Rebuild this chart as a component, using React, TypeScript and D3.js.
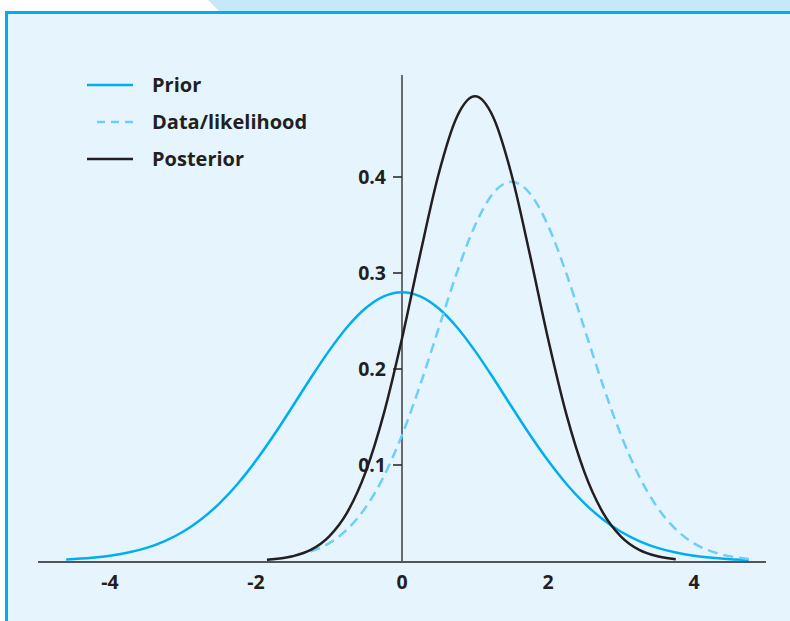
import React from 'react';
import * as d3 from 'd3';

// x positions and densities
const priorX = [-4.6, ...d3.range(-4.25, 4.76, 0.25)];
const priorY = [
  0.0015, 0.0033, 0.0054, 0.0088, 0.0137, 0.0208, 0.0305, 0.0435, 0.0601, 0.0805,
  0.1046, 0.1317, 0.1609, 0.1906, 0.2189, 0.2438, 0.2633, 0.2757, 0.28, 0.2757,
  0.2633, 0.2438, 0.2189, 0.1906, 0.1609, 0.1317, 0.1046, 0.0805, 0.0601, 0.0435,
  0.0305, 0.0208, 0.0137, 0.0088, 0.0054, 0.0033, 0.0019, 0.0012,
];

const dataX = d3.range(-1.25, 4.76, 0.25);
const dataY = [
  0.0097, 0.0184, 0.033, 0.0556, 0.088, 0.1311, 0.1836, 0.2419, 0.2998, 0.3495,
  0.3831, 0.395, 0.3831, 0.3495, 0.2998, 0.2419, 0.1836, 0.1311, 0.088, 0.0556,
  0.033, 0.0184, 0.0097, 0.0048, 0.0022,
];

const postX = [-1.85, ...d3.range(-1.5, 3.76, 0.25)];
const postY = [
  0.0012, 0.0049, 0.0116, 0.0255, 0.0507, 0.0923, 0.1532, 0.2317, 0.3199, 0.4026,
  0.4622, 0.484, 0.4622, 0.4026, 0.3199, 0.2317, 0.1532, 0.0923, 0.0507, 0.0255,
  0.0116, 0.0049, 0.0018,
];

const xTicks = [-4, -2, 0, 2, 4];
const yTicks = [0.1, 0.2, 0.3, 0.4];
const legendLabels = ['Prior', 'Data/likelihood', 'Posterior'];

const W = 790;
const H = 621;
const FONT = '"Open Sans", "DejaVu Sans", sans-serif';
const CYAN = '#00aeef';
const LIGHT = '#6dcff6';
const DARK = '#231f20';

export default function App() {
  const x = d3.scaleLinear().domain([0, 1]).range([402, 475]);
  const y = d3.scaleLinear().domain([0, 0.1]).range([561, 465]);

  const line = d3
    .line<[number, number]>()
    .x((d) => x(d[0]))
    .y((d) => y(d[1]))
    .curve(d3.curveMonotoneX);

  const pairs = (xs: number[], ys: number[]) =>
    ys.map((v, i) => [xs[i], v] as [number, number]);

  const series = [
    { label: legendLabels[0], d: line(pairs(priorX, priorY)), color: CYAN, dash: undefined },
    { label: legendLabels[1], d: line(pairs(dataX, dataY)), color: LIGHT, dash: '10,6' },
    { label: legendLabels[2], d: line(pairs(postX, postY)), color: DARK, dash: undefined },
  ];

  return (
    <svg
      width={W}
      height={H}
      style={{ position: 'absolute', left: 0, top: 0, background: '#fff' }}
    >
      {/* panel */}
      <polygon points="208,0 790,0 790,12 220,12" fill="#c5e9f9" />
      <rect x={7} y={13} width={W - 7} height={H - 13} fill="#e6f5fd" />
      <line x1={5} x2={W} y1={12.5} y2={12.5} stroke={CYAN} strokeWidth={3} />
      <line x1={6.5} x2={6.5} y1={11} y2={H} stroke={CYAN} strokeWidth={3} />

      {/* axes */}
      <line x1={38} x2={766} y1={y(0) + 1} y2={y(0) + 1} stroke={DARK} strokeWidth={1.5} />
      <line x1={x(0)} x2={x(0)} y1={75} y2={y(0)} stroke={DARK} strokeWidth={1.3} />
      {yTicks.map((t) => (
        <g key={t}>
          <line x1={x(0) - 9} x2={x(0)} y1={y(t)} y2={y(t)} stroke={DARK} strokeWidth={1.5} />
          <text
            x={x(0) - 16}
            y={y(t)}
            dy="0.35em"
            textAnchor="end"
            fontFamily={FONT}
            fontWeight={700}
            fontSize={19.5}
            fill={DARK}
          >
            {t.toFixed(1)}
          </text>
        </g>
      ))}
      {xTicks.map((t) => (
        <text
          key={t}
          x={x(t)}
          y={589}
          textAnchor="middle"
          fontFamily={FONT}
          fontWeight={700}
          fontSize={19.5}
          fill={DARK}
        >
          {t}
        </text>
      ))}

      {/* curves */}
      {series.map((s) => (
        <path
          key={s.label}
          d={s.d ?? ''}
          fill="none"
          stroke={s.color}
          strokeWidth={2.5}
          strokeDasharray={s.dash}
        />
      ))}

      {/* legend */}
      {series.map((s, i) => {
        const ly = 85 + i * 37;
        return (
          <g key={s.label}>
            <line
              x1={s.dash ? 97 : 87}
              x2={133}
              y1={ly}
              y2={ly}
              stroke={s.color}
              strokeWidth={2.5}
              strokeDasharray={s.dash ? '8,6' : undefined}
            />
            <text
              x={152}
              y={ly}
              dy="0.35em"
              fontFamily={FONT}
              fontWeight={700}
              fontSize={20}
              fill={DARK}
            >
              {s.label}
            </text>
          </g>
        );
      })}
    </svg>
  );
}
